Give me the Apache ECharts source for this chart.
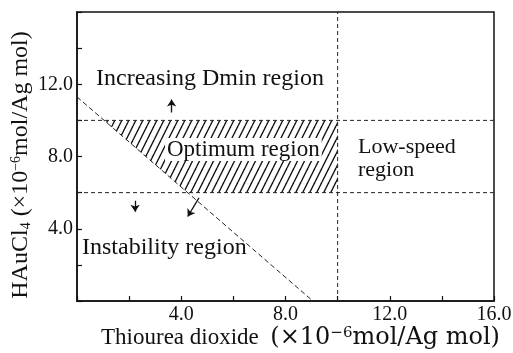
<!DOCTYPE html>
<html>
<head>
<meta charset="utf-8">
<script src="https://cdn.jsdelivr.net/npm/echarts@6/dist/echarts.min.js"></script>
<style>
html,body{margin:0;padding:0;background:#fff;}
#chart{width:513px;height:353px;}
</style>
</head>
<body>
<div id="chart"></div>
<script>
// ---- data ----
const xTickLabels = {4: '4.0', 8: '8.0', 12: '12.0', 16: '16.0'};
const yTickLabels = {4: '4.0', 8: '8.0', 12: '12.0'};
const upperLimit = [[0, 10], [16, 10]];        // HAuCl4 upper boundary
const lowerLimit = [[0, 6], [16, 6]];          // HAuCl4 lower boundary
const speedLimit = [[10, 0], [10, 16]];        // thiourea dioxide boundary
const stabilityLimit = [[0, 11.3], [9.05, 0]]; // diagonal boundary
const optimumRegion = [[1.04, 10], [10, 10], [10, 6], [4.25, 6]];
const arrows = [
  [[3.63, 10.43], [3.63, 11.15]],
  [[2.23, 5.55], [2.23, 4.94]],
  [[4.68, 5.71], [4.25, 4.68]]
];
const regionLabels = ['Increasing Dmin region', 'Optimum region', 'Low-speed', 'region', 'Instability region'];
const xTitle = '{a|Thiourea dioxide  }{p|(×10}{s|−6}{p|mol/Ag mol)}';
const yTitle = '{a|HAuCl}{b|4}{a| (×10}{s|−6}{a|mol/Ag mol)}';

// ---- hatch pattern ----
const pc = document.createElement('canvas');
pc.width = 7; pc.height = 14;
const ctx = pc.getContext('2d');
ctx.strokeStyle = '#111';
ctx.lineWidth = 1.4;
[[-7, 0], [0, 0], [7, 0]].forEach(function (o) {
  ctx.beginPath();
  ctx.moveTo(o[0], 14);
  ctx.lineTo(o[0] + 7, 0);
  ctx.stroke();
});

const FONT = '"Liberation Serif", "Times New Roman", serif';
const WIDE = '"DejaVu Serif", serif';
const dashStyle = {color: '#222', width: 1, type: [4, 3]};
const xRich = {
  a: {fontSize: 23, fontFamily: FONT, color: '#111'},
  p: {fontSize: 24, fontFamily: WIDE, color: '#111'},
  s: {fontSize: 15, fontFamily: WIDE, color: '#111', verticalAlign: 'top'}
};
const yRich = {
  a: {fontSize: 24, fontFamily: FONT, color: '#111'},
  s: {fontSize: 14, fontFamily: FONT, color: '#111', verticalAlign: 'top'},
  b: {fontSize: 14, fontFamily: FONT, color: '#111', verticalAlign: 'bottom'}
};

const chart = echarts.init(document.getElementById('chart'), null, {renderer: 'canvas'});
chart.setOption({
  animation: false,
  backgroundColor: '#fff',
  grid: {left: 77, right: 19, top: 12, bottom: 52, show: true, borderColor: '#111', borderWidth: 1.5,
         containLabel: false, outerBoundsMode: 'none'},
  xAxis: {
    type: 'value', min: 0, max: 16, interval: 2,
    name: xTitle, nameLocation: 'middle', nameGap: 25, nameMoveOverlap: false,
    nameTextStyle: {rich: xRich, padding: [0, 0, 0, 30]},
    axisLine: {show: true, lineStyle: {color: '#111', width: 1.5}},
    axisTick: {show: true, inside: true, length: 5, lineStyle: {color: '#111', width: 1.2}},
    axisLabel: {
      color: '#111', fontSize: 20, fontFamily: FONT, margin: 4, showMaxLabel: true,
      formatter: function (v) { return xTickLabels[v] || ''; }
    },
    splitLine: {show: false}
  },
  yAxis: {
    type: 'value', min: 0, max: 16, interval: 2,
    name: yTitle, nameLocation: 'middle', nameGap: 44, nameRotate: 90, nameMoveOverlap: false,
    nameTextStyle: {rich: yRich, padding: [0, 17, 0, 0]},
    axisLine: {show: true, lineStyle: {color: '#111', width: 1.5}},
    axisTick: {show: true, inside: true, length: 5, lineStyle: {color: '#111', width: 1.2}},
    axisLabel: {
      color: '#111', fontSize: 20, fontFamily: FONT, margin: 4,
      formatter: function (v) { return yTickLabels[v] || ''; }
    },
    splitLine: {show: false}
  },
  series: [
    {
      type: 'custom', silent: true, z: 1,
      data: [[0, 0]],
      renderItem: function (params, api) {
        return {
          type: 'polygon',
          shape: {points: optimumRegion.map(function (p) { return api.coord(p); })},
          style: {fill: {image: pc, repeat: 'repeat'}}
        };
      }
    },
    {type: 'line', data: upperLimit, showSymbol: false, silent: true, lineStyle: dashStyle, z: 3},
    {type: 'line', data: lowerLimit, showSymbol: false, silent: true, lineStyle: dashStyle, z: 3},
    {type: 'line', data: speedLimit, showSymbol: false, silent: true, lineStyle: dashStyle, z: 3},
    {type: 'line', data: stabilityLimit, showSymbol: false, silent: true, lineStyle: {color: '#222', width: 1, type: [5, 3]}, z: 3},
    {
      type: 'lines', coordinateSystem: 'cartesian2d', silent: true, z: 4,
      symbol: ['none', 'arrow'], symbolSize: 7,
      lineStyle: {color: '#111', width: 1.3, opacity: 1},
      data: arrows.map(function (c) { return {coords: c}; })
    }
  ],
  graphic: [
    {type: 'text', left: 96, top: 67, z: 10, style: {text: regionLabels[0], font: '24px ' + FONT, fill: '#111'}},
    {type: 'text', left: 165, top: 138, z: 10, style: {text: regionLabels[1], font: '23px ' + FONT, fill: '#111', backgroundColor: '#fff', padding: [0, 2]}},
    {type: 'text', left: 358, top: 136, z: 10, style: {text: regionLabels[2], font: '22px ' + FONT, fill: '#111'}},
    {type: 'text', left: 358, top: 159, z: 10, style: {text: regionLabels[3], font: '22px ' + FONT, fill: '#111'}},
    {type: 'text', left: 82, top: 236, z: 10, style: {text: regionLabels[4], font: '24px ' + FONT, fill: '#111'}}
  ]
});
</script>
</body>
</html>
